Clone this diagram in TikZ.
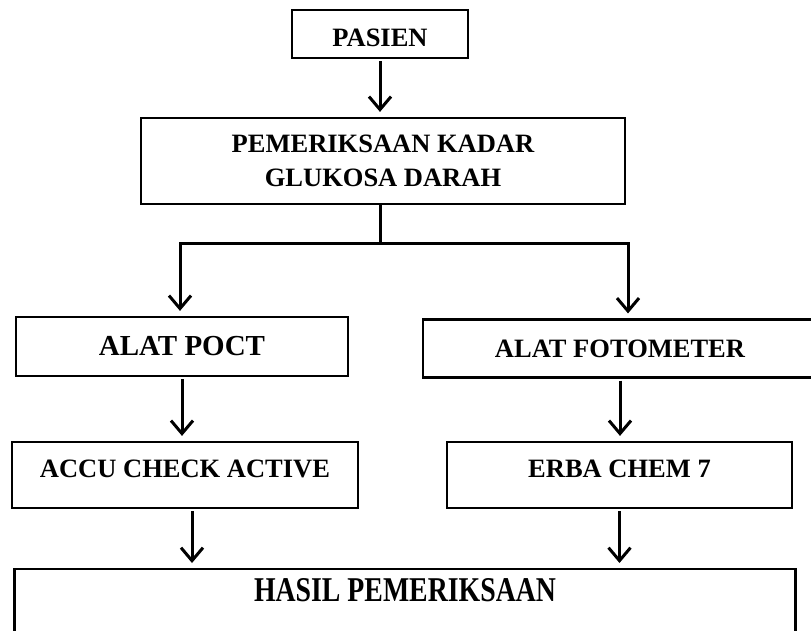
\documentclass[tikz,border=0pt]{standalone}
\usepackage{fontspec}
\setmainfont{Liberation Serif}
\usepackage{graphicx}
\usetikzlibrary{calc}
\usetikzlibrary{arrows.meta}

\begin{document}
\begin{tikzpicture}[x=1pt,y=-1pt,
	kotak/.style={draw, line width=2.2pt, inner sep=0pt, align=center,
		font=\fontsize{26.5}{34}\selectfont\bfseries},
	garis/.style={line width=3pt},
	panah/.style={line width=3pt, -{Straight Barb[length=13pt,width=22pt]},
		shorten >=5pt, shorten <=2pt}]
			\useasboundingbox (0,0) rectangle (811,631);
			\clip (0,0) rectangle (811,631);

			\node[kotak, minimum width=176pt, minimum height=48pt, text height=26pt] (pasien) at (380,34) {PASIEN};
			\node[kotak, minimum width=484pt, minimum height=86pt] (periksa) at (383,161) {PEMERIKSAAN KADAR\\GLUKOSA DARAH};

			\coordinate (cabang) at (380,243);
			\coordinate (kiri) at (180,243);
			\coordinate (kanan) at (628,243);

			\node[kotak, minimum width=332pt, minimum height=59pt, font=\fontsize{29}{34}\selectfont\bfseries] (poct) at (182,346.5) {ALAT POCT};
			\node[kotak, minimum width=394pt, minimum height=58pt] (foto) at (620,348.5) {ALAT FOTOMETER};
			\node[kotak, minimum width=346pt, minimum height=66pt, text depth=12pt] (accu) at (185,475) {ACCU CHECK ACTIVE};
			\node[kotak, minimum width=345pt, minimum height=66pt, text depth=12pt] (erba) at (619.5,475) {ERBA CHEM 7};
			\node[kotak, anchor=north, minimum width=781pt, inner ysep=9pt, text depth=60pt,
				font=\fontsize{27.8}{34}\selectfont\bfseries] (hasil) at (405,568) {\scalebox{1}[1.25]{HASIL PEMERIKSAAN}};

			%alur atas
			\draw[panah] (pasien.south) -- (pasien.south |- periksa.north);
			\draw[garis] ($(periksa.south)+(-3,0)$) -- (cabang);
			\draw[panah, shorten <=0pt] (cabang) -| (kiri |- poct.north);
			\draw[panah, shorten <=0pt] (cabang) -| (kanan |- foto.north);

			%alur bawah
			\draw[panah] (poct.south) -- (poct.south |- accu.north);
			\draw[panah] (foto.south) -- (foto.south |- erba.north);
			\draw[panah] ([xshift=7pt]accu.south) -- ([xshift=7pt]accu.south |- hasil.north);
			\draw[panah] (erba.south) -- (erba.south |- hasil.north);

		\end{tikzpicture}
\end{document}
